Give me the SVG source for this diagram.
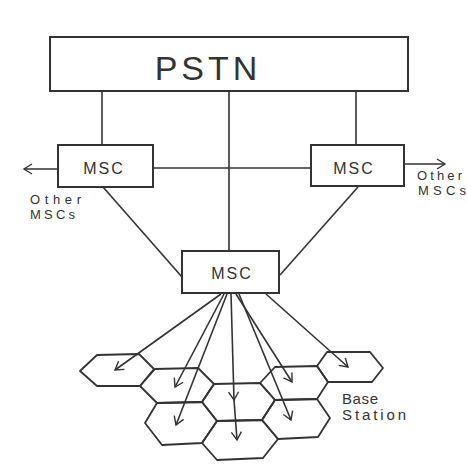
<svg xmlns="http://www.w3.org/2000/svg" width="467" height="470" viewBox="0 0 467 470">
<style>
.box{fill:#fff;stroke:#333;stroke-width:2}
.ln{fill:none;stroke:#333;stroke-width:1.6}
.hex{fill:none;stroke:#333;stroke-width:1.8;stroke-linejoin:round}
.t{font-family:"Liberation Sans",Arial,sans-serif;fill:#333}
</style>
<defs>
<marker id="ah" viewBox="-10 -6 12 12" markerWidth="12" markerHeight="12" refX="0" refY="0" orient="auto" markerUnits="userSpaceOnUse">
<path d="M-8,-5 L0,0 L-8,5" fill="none" stroke="#333" stroke-width="1.4"/>
</marker>
</defs>
<rect width="467" height="470" fill="#fff"/>
<g id="connectors">
<line class="ln" x1="102" y1="91" x2="102" y2="145"/>
<line class="ln" x1="229" y1="91" x2="229" y2="251"/>
<line class="ln" x1="356" y1="91" x2="356" y2="145"/>
<line class="ln" x1="153" y1="168" x2="311" y2="168"/>
<line class="ln" x1="58" y1="169" x2="24" y2="169" marker-end="url(#ah)"/>
<line class="ln" x1="404" y1="164" x2="445" y2="164" marker-end="url(#ah)"/>
<line class="ln" x1="103" y1="187" x2="182" y2="277"/>
<line class="ln" x1="358" y1="187" x2="280" y2="275"/>
<line class="ln" x1="221" y1="294" x2="115" y2="370" marker-end="url(#ah)"/>
<line class="ln" x1="224" y1="294" x2="175" y2="387" marker-end="url(#ah)"/>
<line class="ln" x1="227" y1="294" x2="176" y2="425" marker-end="url(#ah)"/>
<polyline class="ln" points="231,294 234,400 237,440" marker-mid="url(#ah)" marker-end="url(#ah)"/>
<line class="ln" x1="236" y1="294" x2="292" y2="382" marker-end="url(#ah)"/>
<line class="ln" x1="239" y1="294" x2="291" y2="420" marker-end="url(#ah)"/>
<line class="ln" x1="266" y1="294" x2="348" y2="367" marker-end="url(#ah)"/>
</g>
<g id="pstn">
<rect class="box" x="50" y="37" width="358" height="54"/>
<text class="t" x="208" y="80" font-size="34" text-anchor="middle" letter-spacing="4">PSTN</text>
</g>
<g id="msc-left">
<rect class="box" x="58" y="145" width="95" height="42"/>
<text class="t" x="104" y="174" font-size="16" text-anchor="middle" letter-spacing="2">MSC</text>
</g>
<g id="msc-right">
<rect class="box" x="311" y="145" width="93" height="41"/>
<text class="t" x="354" y="174" font-size="16" text-anchor="middle" letter-spacing="2">MSC</text>
</g>
<g id="msc-center">
<rect class="box" x="182" y="251" width="97" height="42"/>
<text class="t" x="232" y="279" font-size="16" text-anchor="middle" letter-spacing="2">MSC</text>
</g>
<g id="label-other-left">
<text class="t" x="30" y="204" font-size="13" textLength="51">Other</text>
<text class="t" x="30" y="219" font-size="13" textLength="45">MSCs</text>
</g>
<g id="label-other-right">
<text class="t" x="417" y="180" font-size="13" textLength="45">Other</text>
<text class="t" x="418" y="195" font-size="13" textLength="48">MSCs</text>
</g>
<g id="cells">
<polygon class="hex" points="80,371 97,355 139,354 154,369 140,386 97,386"/>
<polygon class="hex" points="140,386 155,369 198,368 214,384 202,402 157,403"/>
<polygon class="hex" points="145,423 157,403 202,402 217,421 202,443 162,445"/>
<polygon class="hex" points="202,402 214,384 260,383 275,400 262,420 217,421"/>
<polygon class="hex" points="202,443 217,421 262,420 278,439 263,458 217,460"/>
<polygon class="hex" points="260,383 275,367 317,366 328,382 317,399 275,400"/>
<polygon class="hex" points="262,420 275,400 317,399 330,418 318,437 278,439"/>
<polygon class="hex" points="317,366 327,352 370,352 383,368 372,382 328,382"/>
</g>
<g id="label-base-station">
<text class="t" x="342" y="404" font-size="15" textLength="36">Base</text>
<text class="t" x="342" y="420" font-size="15" textLength="64">Station</text>
</g>
</svg>
